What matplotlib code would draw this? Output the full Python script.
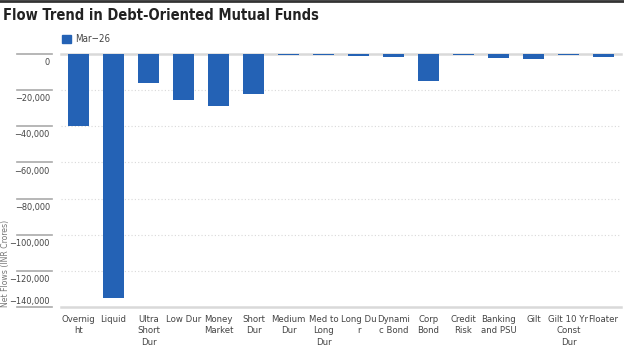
import numpy as np
import matplotlib.pyplot as plt
from matplotlib.lines import Line2D

plt.rcParams['font.family'] = ['Liberation Sans Narrow', 'DejaVu Sans']
plt.rcParams['font.stretch'] = 'condensed'

# Fund categories (labels wrapped as in the source chart)
categories = ["Overnig\nht", "Liquid", "Ultra\nShort\nDur", "Low Dur", "Money\nMarket",
              "Short\nDur", "Medium\nDur", "Med to\nLong\nDur", "Long Du\nr", "Dynami\nc Bond",
              "Corp\nBond", "Credit\nRisk", "Banking\nand PSU", "Gilt", "Gilt 10 Yr\nConst\nDur",
              "Floater"]
# Net flows, Mar-26 (INR crores)
flows = [-39800, -135000, -16000, -25400, -28800, -22100, -600, -300, -900, -1400,
         -15100, -300, -2000, -2800, -300, -1400]
series_name = "Mar\u221226"
yticks = [0, -20000, -40000, -60000, -80000, -100000, -120000, -140000]

bar_color = '#2462b5'
grey = '#d9d9d9'
text_col = '#444444'

fig = plt.figure(figsize=(6.24, 3.51), dpi=100)
ax = fig.add_axes([61/624, 1 - 307/351, 560/624, 253/351])

x = np.arange(len(categories))
ax.bar(x, flows, width=0.6, color=bar_color, zorder=3)

ax.set_xlim(-0.5, len(categories) - 0.5)
ax.set_ylim(-140000, 0)
for s in ax.spines.values():
    s.set_visible(False)
ax.set_yticks([])
ax.set_xticks(x)
ax.set_xticklabels(categories, fontsize=6.8, color=text_col, linespacing=1.3, va='top')
ax.tick_params(axis='x', length=0, pad=6)

# gridlines
for v in yticks:
    if v in (0, -140000):
        ax.axhline(v, color=grey, lw=1.8, zorder=2, clip_on=False)
    else:
        ax.axhline(v, color=grey, lw=0.8, ls=(0, (1, 2)), zorder=1)
    # outer tick line and label
    ax.plot([-0.0786, -0.016], [v, v], color='#aaaaaa', lw=1.2,
            transform=ax.get_yaxis_transform(), clip_on=False)
    lab = f"{v:,}".replace('-', '\u2212')
    if v == -140000:
        ax.annotate(lab, (-0.02, v), xycoords=ax.get_yaxis_transform(),
                    xytext=(0, 1), textcoords='offset points',
                    ha='right', va='bottom', fontsize=6.6, color=text_col)
    else:
        ax.annotate(lab, (-0.02, v), xycoords=ax.get_yaxis_transform(),
                    xytext=(0, -3), textcoords='offset points',
                    ha='right', va='top', fontsize=6.6, color=text_col)

fig.text(6/624, 1 - 307/351, "Net Flows (INR Crores)", rotation=90, ha='center', va='bottom',
         fontsize=6.2, color='#777777')

# legend
fig.patches.append(plt.Rectangle((62/624, 1 - 43/351), 9/624, 8/351, transform=fig.transFigure,
                                 color=bar_color))
fig.text(75/624, 1 - 39/351, series_name, fontsize=7, color=text_col, va='center')

fig.text(3/624, 1 - 15/351, "Flow Trend in Debt-Oriented Mutual Funds", fontsize=10.5,
         fontweight='bold', color='#222222', va='center')
fig.add_artist(Line2D([0, 1], [0.997, 0.997], color='#333333', lw=2, transform=fig.transFigure))

fig.savefig('out.png', dpi=100)
